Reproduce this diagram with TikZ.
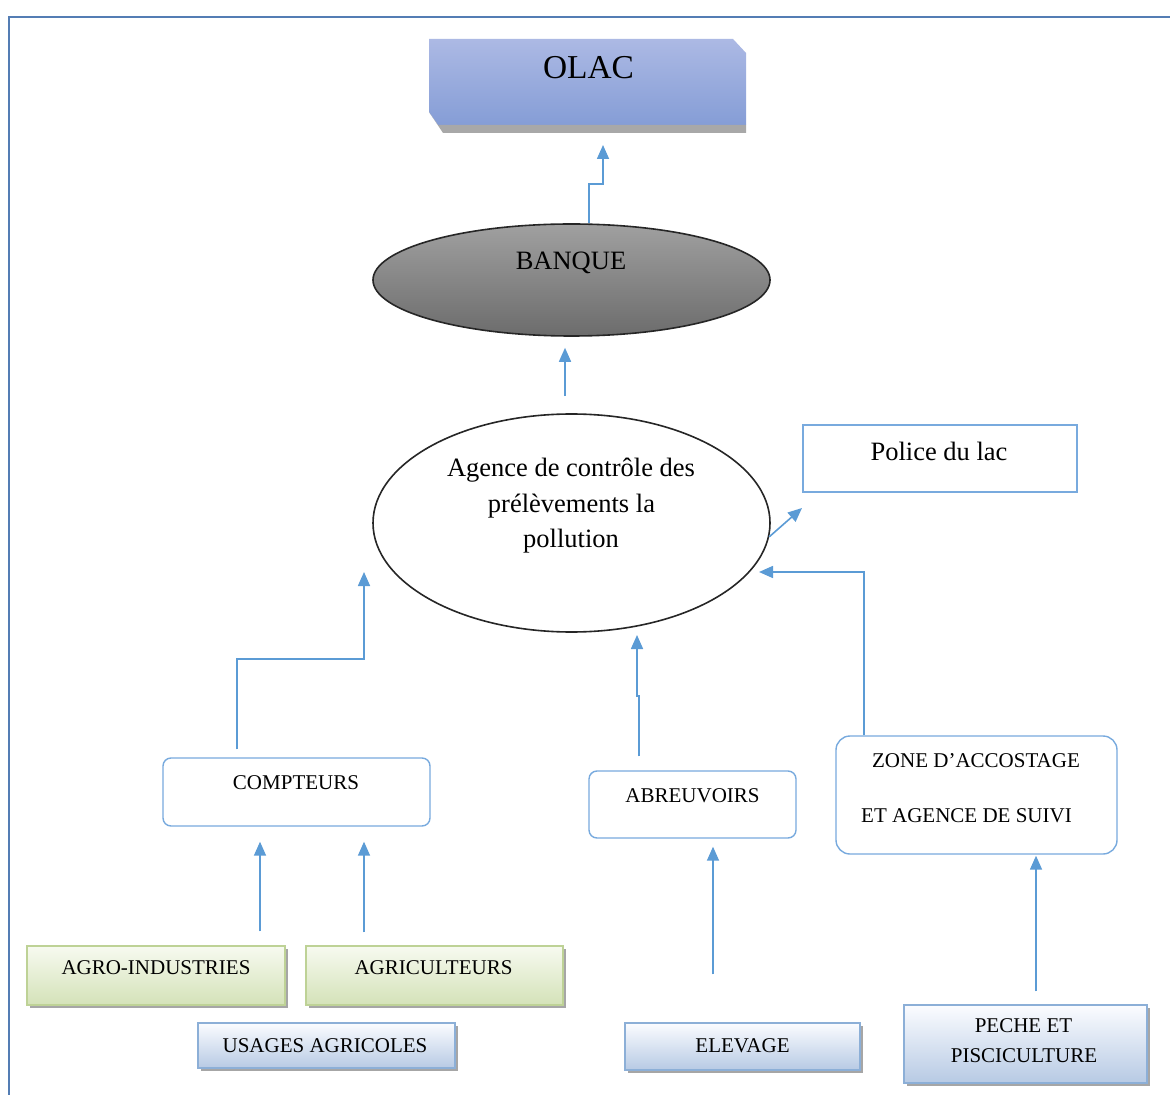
\documentclass[tikz,border=0pt]{standalone}
\usepackage{fontspec}
\setmainfont{Liberation Serif}
\usetikzlibrary{arrows.meta,shapes.geometric,shadows}
\definecolor{connc}{RGB}{91,155,213}
\definecolor{framec}{RGB}{84,125,180}
\definecolor{olact}{RGB}{172,185,228}
\definecolor{olacb}{RGB}{133,157,214}
\definecolor{olacsh}{RGB}{168,168,168}
\definecolor{banqt}{RGB}{160,160,160}
\definecolor{banqb}{RGB}{108,108,108}
\definecolor{greent}{RGB}{247,250,240}
\definecolor{greenb}{RGB}{212,226,184}
\definecolor{greend}{RGB}{190,210,150}
\definecolor{bluet}{RGB}{251,252,255}
\definecolor{blueb}{RGB}{183,202,228}
\definecolor{blued}{RGB}{140,175,215}
\definecolor{roundd}{RGB}{120,170,222}
\begin{document}
\begin{tikzpicture}[x=0.5pt,y=-0.5pt,
  conn/.style={draw=connc, line width=0.8pt, -{Triangle[width=6pt,length=7pt]}},
  txt/.style={anchor=base, inner sep=0pt, font=\fontsize{13.25}{15}\selectfont},
  captxt/.style={anchor=base, inner sep=0pt, font=\fontsize{10.5}{12}\selectfont},
  ell/.style={ellipse, draw=black!85, line width=0.8pt, inner sep=0pt},
  rbox/.style={rectangle, rounded corners=4pt, draw=roundd, line width=0.7pt, inner sep=0pt},
  greenbox/.style={rectangle, top color=greent, bottom color=greenb, draw=greend, line width=0.6pt, inner sep=0pt,
     drop shadow={shadow xshift=1.5pt, shadow yshift=-1.5pt, fill=black!35, opacity=1}},
  bluebox/.style={rectangle, top color=bluet, bottom color=blueb, draw=blued, line width=0.6pt, inner sep=0pt,
     drop shadow={shadow xshift=1.5pt, shadow yshift=-1.5pt, fill=black!35, opacity=1}}
]
\useasboundingbox (0,0) rectangle (1170,1095);
\clip (0,0) rectangle (1170,1095);
\fill[white] (0,0) rectangle (1170,1095);
% frame
\draw[line width=1pt, draw=framec] (9,1100) -- (9,17) -- (1180,17);

% OLAC
\shade[top color=olact, bottom color=olacb] (429,39)--(733,39)--(746,53)--(746,125)--(438,125)--(429,112)--cycle;
\fill[olacsh] (429,112)--(443,133)--(746,133)--(746,125)--(438,125)--cycle;
\node[minimum width=158.5pt, minimum height=47pt, inner sep=0pt] (olac) at (587.5,86) {};
\node[txt, font=\fontsize{16.7}{19}\selectfont] (olactxt) at (588.5,79) {OLAC};

% ellipses
\node[ell, top color=banqt, bottom color=banqb, minimum width=198.5pt, minimum height=56pt] (banq) at (571.5,280) {};
\node[txt] (banqtxt) at (571,270) {BANQUE};
\node[ell, fill=white, minimum width=198.5pt, minimum height=109pt] (agence) at (571.5,523) {};
\node[txt] (ag1) at (571,477) {Agence de contrôle des};
\node[txt] (ag2) at (571.5,512) {prélèvements la};
\node[txt] (ag3) at (571,547) {pollution};

% police
\node[rectangle, draw=roundd, line width=0.7pt, minimum width=137pt, minimum height=33.5pt, inner sep=0pt] (police) at (940,458.5) {};
\node[txt] (poltxt) at (939,460) {Police du lac};

% rounded boxes
\node[rbox, minimum width=133.5pt, minimum height=34pt] (compt) at (296.5,792) {};
\node[captxt] (compttxt) at (296,789) {COMPTEURS};
\node[rbox, minimum width=103.5pt, minimum height=33.5pt] (abreuv) at (692.5,804.5) {};
\node[captxt] (abreuvtxt) at (692.5,802) {ABREUVOIRS};
\node[rbox, rounded corners=7pt, minimum width=140.5pt, minimum height=59pt] (zone) at (976.5,795) {};
\node[captxt] (zone1) at (976,767) {ZONE D’ACCOSTAGE};
\node[captxt] (zone2) at (966.5,822) {ET AGENCE DE SUIVI};

% bottom boxes
\node[greenbox, minimum width=129pt, minimum height=29.5pt] (agro) at (156,975.5) {};
\node[captxt] (agrotxt) at (156,974) {AGRO-INDUSTRIES};
\node[greenbox, minimum width=128.5pt, minimum height=29.5pt] (agric) at (434.5,975.5) {};
\node[captxt] (agrictxt) at (433.5,974) {AGRICULTEURS};
\node[bluebox, minimum width=128.5pt, minimum height=22.5pt] (usages) at (326.5,1045.5) {};
\node[captxt] (usagestxt) at (325,1052) {USAGES AGRICOLES};
\node[bluebox, minimum width=117.5pt, minimum height=23.5pt] (elev) at (742.5,1046.5) {};
\node[captxt] (elevtxt) at (742.5,1052) {ELEVAGE};
\node[bluebox, minimum width=121.5pt, minimum height=39pt] (peche) at (1025.5,1044) {};
\node[captxt] (peche1) at (1023.5,1032) {PECHE ET};
\node[captxt] (peche2) at (1024,1062) {PISCICULTURE};

% helper coordinates
\coordinate (x589) at (589,0);
\coordinate (x565) at (565,0);
\coordinate (x864) at (864,0);
\coordinate (x237) at (237,0);
\coordinate (x639) at (639,0);
\coordinate (x713) at (713,0);
\coordinate (x1036) at (1036,0);
\coordinate (x260) at (260,0);
\coordinate (x364) at (364,0);
\coordinate (polin) at (802,508);
\coordinate (zin) at (759,572);
\coordinate (cin) at (364,572);
\coordinate (ain) at (637,635);
\coordinate (olin) at (603,145);

% connectors
\draw[conn] (banq.north -| x589) -- (589,184) -- (603,184) -- (olin);
\draw[conn, shorten <=8.5pt, shorten >=5.5pt] (agence.north -| x565) -- (banq.south -| x565);
\draw[conn] (agence.-4) -- (polin);
\draw[conn] (zone.north -| x864) |- (zin);
\draw[conn, shorten <=4pt] (compt.north -| x237) -- (237,659) -- (364,659) -- (cin);
\draw[conn, shorten <=7pt] (abreuv.north -| x639) -- (639,696) -- (637,696) -- (ain);
\draw[conn, shorten <=24pt, shorten >=4pt] (elev.north -| x713) -- (abreuv.south -| x713);
\draw[conn, shorten <=6.5pt, shorten >=0.5pt] (peche.north -| x1036) -- (zone.south -| x1036);
\draw[conn, shorten <=7pt, shorten >=7.5pt] (agro.north -| x260) -- (compt.south -| x260);
\draw[conn, shorten <=6.5pt, shorten >=7.5pt] (agric.north -| x364) -- (compt.south -| x364);
\end{tikzpicture}
\end{document}
